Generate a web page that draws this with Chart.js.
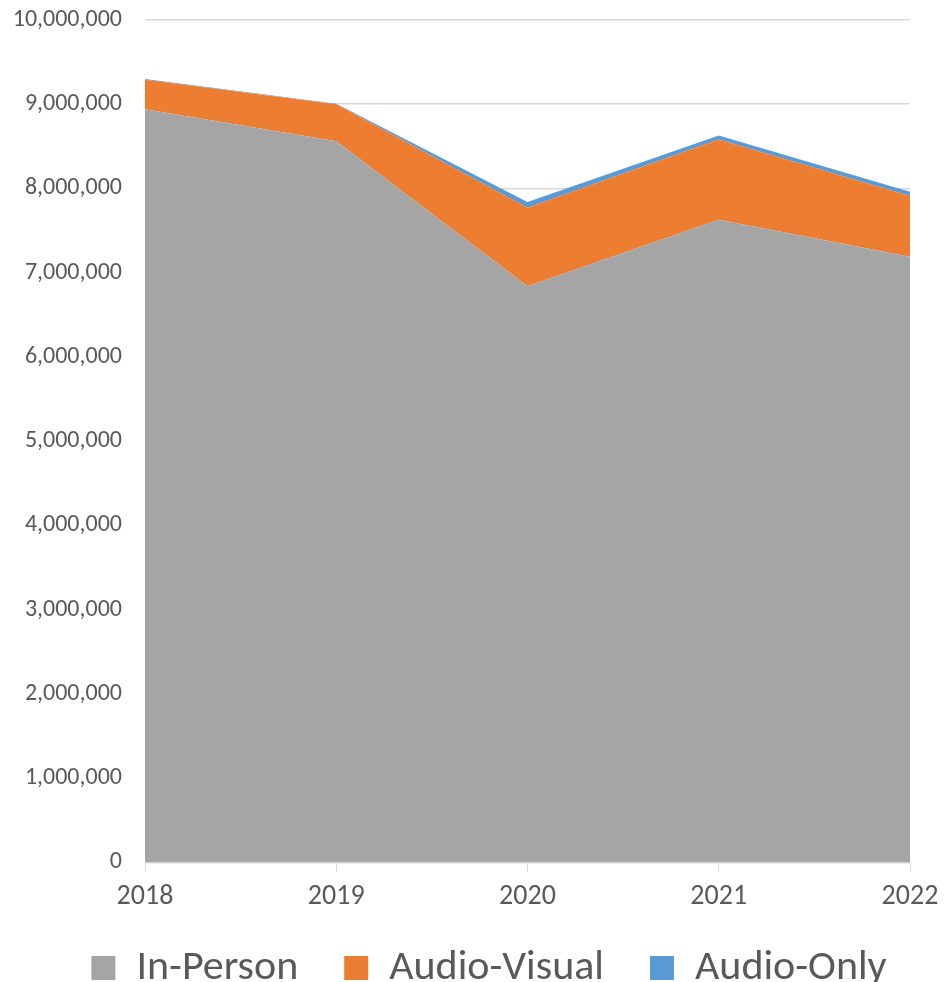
<!DOCTYPE html>
<html>
<head>
<meta charset="utf-8">
<script src="https://cdn.jsdelivr.net/npm/chart.js@4"></script>
<style>
  html, body { margin: 0; padding: 0; background: #fff; }
  #wrap { width: 952px; height: 982px; }
</style>
</head>
<body>
<div id="wrap"><canvas id="visitsChart"></canvas></div>
<script>
const years = ['2018', '2019', '2020', '2021', '2022'];
const inPerson = [8940000, 8560000, 6840000, 7630000, 7190000];
const audioVisual = [350000, 440000, 930000, 950000, 720000];
const audioOnly = [10000, 5000, 70000, 50000, 50000];
const yTicks = [0, 1000000, 2000000, 3000000, 4000000, 5000000, 6000000, 7000000, 8000000, 9000000, 10000000];

const FONT = "Carlito, 'Liberation Sans Narrow', 'Open Sans', sans-serif";
const textColor = '#595959';
const gridColor = '#d9d9d9';

function area(label, data, color, fill) {
  return {
    label: label,
    data: data,
    backgroundColor: color,
    borderColor: color,
    borderWidth: 0,
    pointRadius: 0,
    fill: fill,
    tension: 0
  };
}

// nudge the legend right and up, like the original
const legendShift = {
  id: 'legendShift',
  afterLayout(chart) {
    const lg = chart.legend;
    lg.left += 13;
    lg.right += 13;
    lg.top -= 22;
    lg.bottom -= 22;
  }
};

const ctx = document.getElementById('visitsChart');
new Chart(ctx, {
  type: 'line',
  data: {
    labels: years,
    datasets: [
      area('In-Person', inPerson, '#a5a5a5', 'origin'),
      area('Audio-Visual', audioVisual, '#ed7d31', '-1'),
      area('Audio-Only', audioOnly, '#5b9bd5', '-1')
    ]
  },
  plugins: [legendShift],
  options: {
    responsive: true,
    maintainAspectRatio: false,
    animation: false,
    layout: { padding: { top: 20, right: 0, left: 0, bottom: -39 } },
    scales: {
      x: {
        offset: false,
        afterFit: scale => { scale.paddingRight = 42; },
        grid: { drawOnChartArea: false, drawTicks: true, tickLength: 9, color: gridColor },
        border: { color: gridColor },
        ticks: { color: textColor, font: { family: FONT, size: 28 }, padding: 9, maxRotation: 0 }
      },
      y: {
        stacked: true,
        min: 0,
        max: 10000000,
        afterFit: scale => { scale.width = 145; scale.paddingTop = 0; },
        afterBuildTicks: scale => { scale.ticks = yTicks.map(v => ({ value: v })); },
        grid: { color: gridColor, lineWidth: 1.5, drawTicks: false },
        border: { display: false },
        ticks: {
          color: textColor,
          font: { family: FONT, size: 24 },
          padding: 23,
          callback: v => v.toLocaleString('en-US')
        }
      }
    },
    plugins: {
      legend: {
        position: 'bottom',
        labels: {
          boxWidth: 24,
          boxHeight: 24,
          padding: 46,
          color: textColor,
          font: { family: FONT, size: 42 }
        }
      },
      tooltip: { enabled: false }
    }
  }
});
</script>
</body>
</html>
